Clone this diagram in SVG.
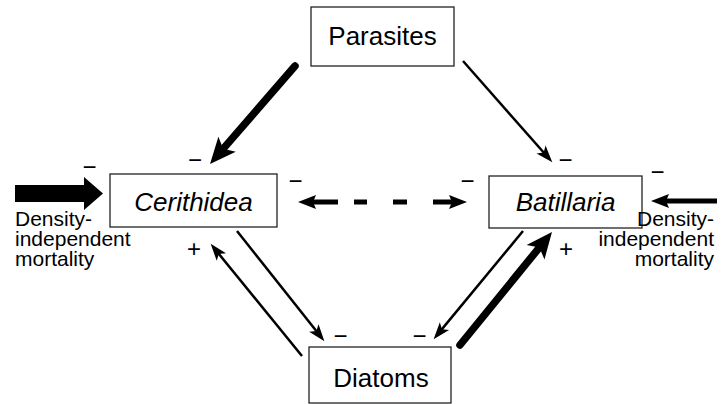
<svg xmlns="http://www.w3.org/2000/svg" width="725" height="404" viewBox="0 0 725 404">
  <style>
    .box { fill: #fff; stroke: #222; stroke-width: 1.3; }
    .name { font-family: "Liberation Sans", Arial, sans-serif; font-size: 26px; fill: #000; text-anchor: middle; }
    .it { font-style: italic; }
    .lbl { font-family: "Liberation Sans", Arial, sans-serif; font-size: 21px; fill: #000; }
    .sign { font-family: "Liberation Sans", Arial, sans-serif; font-size: 24px; fill: #000; text-anchor: middle; }
    .thin { stroke: #000; stroke-width: 2.5; fill: none; marker-end: url(#headThin); }
    .thick { stroke: #000; stroke-width: 7.5; fill: none; stroke-linecap: round; marker-end: url(#headThick); }
    .mid { stroke: #000; stroke-width: 5; fill: none; marker-end: url(#headMid); }
    .dash { stroke: #000; stroke-width: 5; fill: none; }
  </style>
  <defs>
    <marker id="headThin" markerUnits="userSpaceOnUse" markerWidth="20" markerHeight="16" refX="12" refY="0" viewBox="0 -8 20 16" orient="auto" overflow="visible">
      <path d="M0,-6 L17,0 L0,6 L4,0 Z" fill="#000"/>
    </marker>
    <marker id="headMid" markerUnits="userSpaceOnUse" markerWidth="20" markerHeight="16" refX="10" refY="0" viewBox="0 -8 20 16" orient="auto" overflow="visible">
      <path d="M0,-7 L18,0 L0,7 L3,0 Z" fill="#000"/>
    </marker>
    <marker id="headThick" markerUnits="userSpaceOnUse" markerWidth="30" markerHeight="26" refX="14" refY="0" viewBox="0 -13 30 26" orient="auto" overflow="visible">
      <path d="M0,-11.5 L26,0 L0,11.5 L6,0 Z" fill="#000"/>
    </marker>
  </defs>

  <g id="parasites">
    <rect class="box" x="311" y="7" width="143" height="59"/>
    <text class="name" x="382.5" y="45">Parasites</text>
  </g>
  <g id="cerithidea">
    <rect class="box" x="110" y="174" width="167" height="53"/>
    <text class="name it" x="193.5" y="211">Cerithidea</text>
  </g>
  <g id="batillaria">
    <rect class="box" x="489" y="176" width="153" height="52"/>
    <text class="name it" x="565.5" y="211">Batillaria</text>
  </g>
  <g id="diatoms">
    <rect class="box" x="309" y="347" width="142" height="56"/>
    <text class="name" x="381" y="387">Diatoms</text>
  </g>

  <g id="mortality-left">
    <polygon points="15,185 84,185 84,177 103,193.5 84,210 84,202 15,202" fill="#000"/>
    <text class="lbl" x="15" y="226"><tspan x="15">Density-</tspan><tspan x="15" dy="20">independent</tspan><tspan x="15" dy="20">mortality</tspan></text>
  </g>
  <g id="mortality-right">
    <line class="mid" x1="717" y1="201" x2="659" y2="201"/>
    <text class="lbl" x="714" y="226" text-anchor="end"><tspan x="714">Density-</tspan><tspan x="714" dy="20">independent</tspan><tspan x="714" dy="20">mortality</tspan></text>
  </g>

  <g id="connectors">
    <!-- parasites to snails -->
    <line class="thick" x1="295" y1="66" x2="217.9" y2="154.9"/>
    <line class="thin" x1="463" y1="61" x2="549" y2="158.5"/>
    <!-- snail competition (dashed, both ways) -->
    <line class="mid" x1="338" y1="202" x2="306" y2="202"/>
    <line class="dash" x1="354" y1="202" x2="367" y2="202"/>
    <line class="dash" x1="393" y1="202" x2="407" y2="202"/>
    <line class="mid" x1="433" y1="202" x2="459" y2="202"/>
    <!-- snails and diatoms -->
    <line class="thin" x1="237" y1="231" x2="321.3" y2="337.3"/>
    <line class="thin" x1="302" y1="356" x2="213.8" y2="247.7"/>
    <line class="thin" x1="523" y1="231" x2="436.8" y2="335.4"/>
    <line class="thick" x1="460" y1="345" x2="544.4" y2="241.3"/>
  </g>

  <g id="signs">
    <text class="sign" x="89.5" y="175">−</text>
    <text class="sign" x="195" y="168">−</text>
    <text class="sign" x="295.5" y="189">−</text>
    <text class="sign" x="467.5" y="189">−</text>
    <text class="sign" x="565.5" y="168">−</text>
    <text class="sign" x="657.5" y="180">−</text>
    <text class="sign" x="340.5" y="344">−</text>
    <text class="sign" x="419.5" y="344">−</text>
    <text class="sign" x="194" y="257">+</text>
    <text class="sign" x="566" y="257">+</text>
  </g>
</svg>
